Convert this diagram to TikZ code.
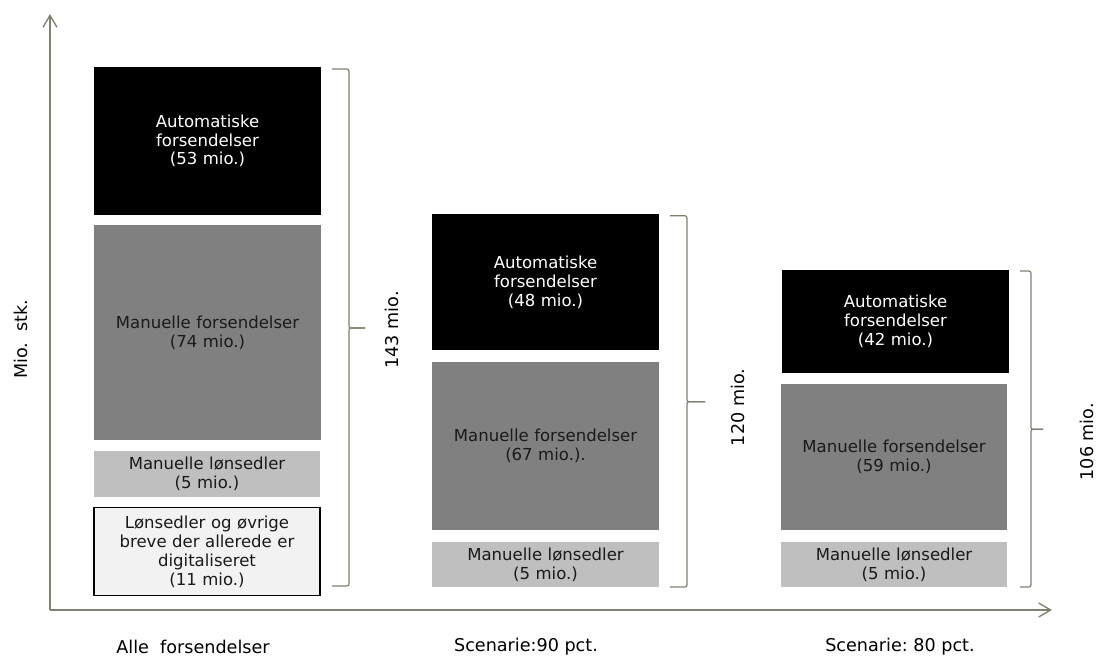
\documentclass[tikz,border=0pt]{standalone}
\usepackage{fontspec}
\setmainfont{DejaVu Sans}
\usetikzlibrary{arrows.meta}
\definecolor{axisc}{RGB}{128,128,112}
\definecolor{midgray}{RGB}{128,128,128}
\definecolor{lightg}{RGB}{191,191,191}
\definecolor{paleg}{RGB}{242,242,242}
\definecolor{txtd}{RGB}{26,26,26}
\begin{document}
\begin{tikzpicture}[x=0.75pt,y=-0.75pt,
  barbase/.style={rectangle, inner sep=0pt, align=center, text width=165pt,
    font=\fontsize{12.4}{14.2}\selectfont},
  autob/.style={barbase, fill=black, text=white},
  manb/.style={barbase, fill=midgray, text=txtd},
  lonb/.style={barbase, fill=lightg, text=txtd},
  digb/.style={barbase, fill=paleg, draw=black, line width=1.1pt, text=txtd},
  axlbl/.style={font=\fontsize{13.2}{15.6}\selectfont, text=black, inner sep=0pt},
  axisline/.style={draw=axisc, line width=1pt, -{Straight Barb[length=9pt,width=10.5pt]}},
  brc/.style={draw=axisc, line width=0.9pt}
]
\useasboundingbox (0,0) rectangle (1098,656);

% axes
\coordinate (O) at (50,610);
\coordinate (ytop) at (50,14);
\coordinate (xend) at (1052,610);
\draw[axisline] (O) -- (ytop);
\draw[axisline] (O) -- (xend);

% bar 1
\node[autob, minimum width=170.25pt, minimum height=111.2pt] (a1) at (207.5,140.85) {Automatiske\\forsendelser\\(53 mio.)};
\node[manb, minimum width=170.25pt, minimum height=161.25pt] (m1) at (207.5,332.5) {Manuelle forsendelser\\(74 mio.)};
\node[lonb, minimum width=169.5pt, minimum height=34.3pt] (l1) at (207,473.85) {Manuelle lønsedler\\(5 mio.)};
\node[digb, minimum width=169.5pt, minimum height=66pt] (d1) at (207,551.7) {Lønsedler og øvrige\\breve der allerede er\\digitaliseret\\(11 mio.)};

% bar 2
\node[autob, minimum width=170.25pt, minimum height=102pt] (a2) at (545.5,282) {Automatiske\\forsendelser\\(48 mio.)};
\node[manb, minimum width=170.25pt, minimum height=126pt] (m2) at (545.5,446) {Manuelle forsendelser\\(67 mio.).};
\node[lonb, minimum width=170.25pt, minimum height=33.3pt] (l2) at (545.5,564.5) {Manuelle lønsedler\\(5 mio.)};

% bar 3
\node[autob, minimum width=170pt, minimum height=77pt] (a3) at (895.5,321.35) {Automatiske\\forsendelser\\(42 mio.)};
\node[manb, minimum width=169.5pt, minimum height=109.5pt] (m3) at (894,457) {Manuelle forsendelser\\(59 mio.)};
\node[lonb, minimum width=169.5pt, minimum height=33.3pt] (l3) at (894,564.5) {Manuelle lønsedler\\(5 mio.)};

% braces
\foreach \xa/\xb/\xc/\yt/\ym/\yb in {332/349/365/69/328/586, 670/687/705/215.7/401.7/587, 1020/1031/1043/271/429.3/587}{
  \draw[brc] (\xa,\yt) -- (\xb-5,\yt) .. controls (\xb,\yt) .. (\xb,\yt+5)
     -- (\xb,\ym-4) .. controls (\xb,\ym) .. (\xb+5,\ym) -- (\xc,\ym);
  \draw[brc] (\xc,\ym) -- (\xb+5,\ym) .. controls (\xb,\ym) .. (\xb,\ym+4)
     -- (\xb,\yb-5) .. controls (\xb,\yb) .. (\xb-5,\yb) -- (\xa,\yb);
}

% totals
\node[axlbl, rotate=90] (t1) at (392,330) {143 mio.};
\node[axlbl, rotate=90] (t2) at (738,407.5) {120 mio.};
\node[axlbl, rotate=90] (t3) at (1087,441.7) {106 mio.};

% axis labels
\node[axlbl, rotate=90] (ylab) at (21,339) {Mio.\ \ stk.};
\node[axlbl] (c1) at (193,647) {Alle\ \ forsendelser};
\node[axlbl] (c2) at (526,647) {Scenarie:90 pct.};
\node[axlbl] (c3) at (900,647) {Scenarie:\ 80 pct.};
\end{tikzpicture}
\end{document}
